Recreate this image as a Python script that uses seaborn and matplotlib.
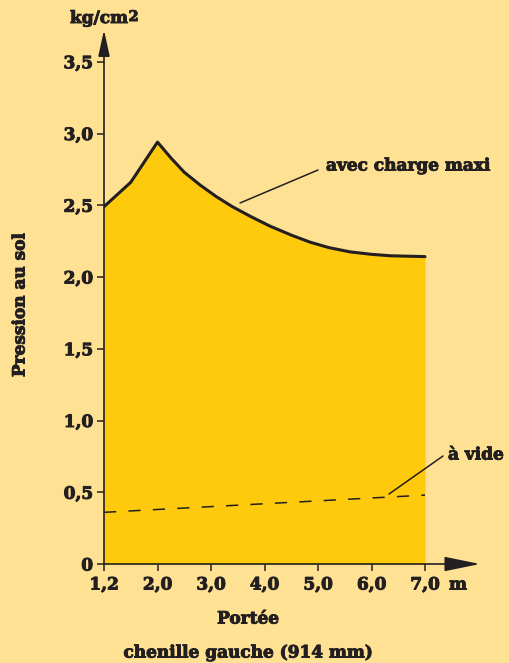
import numpy as np
import matplotlib
matplotlib.use("Agg")
import matplotlib.pyplot as plt
import matplotlib.patheffects as pe
import seaborn as sns

# --- data ---
tick_m = [1.2, 2.0, 3.0, 4.0, 5.0, 6.0, 7.0]
tick_labels = ["1,2", "2,0", "3,0", "4,0", "5,0", "6,0", "7,0"]
y_ticks = [0, 0.5, 1.0, 1.5, 2.0, 2.5, 3.0, 3.5]
y_labels = ["0", "0,5", "1,0", "1,5", "2,0", "2,5", "3,0", "3,5"]

# avec charge maxi
charge_m = [1.2, 1.6, 2.0, 2.25, 2.5, 2.8, 3.1, 3.4, 3.75, 4.1, 4.5,
            4.85, 5.2, 5.6, 6.0, 6.35, 7.0]
charge_p = [2.49, 2.66, 2.94, 2.83, 2.73, 2.64, 2.56, 2.49, 2.42, 2.355, 2.292,
            2.243, 2.205, 2.175, 2.158, 2.148, 2.142]

# à vide
vide_m = [1.2, 7.0]
vide_p = [0.36, 0.48]

BG = "#fee193"
FILL = "#ffc90c"
INK = "#231f20"

sns.set_style("white", {"axes.facecolor": BG, "figure.facecolor": BG})
plt.rcParams["font.family"] = ["DejaVu Serif"]
plt.rcParams["font.weight"] = "bold"
plt.rcParams["mathtext.fontset"] = "dejavuserif"

W, H = 509, 663
fig = plt.figure(figsize=(W / 100, H / 100), dpi=100)
# axis origin at px (104, 564); x tick spacing 53.5 px, y 143.5 px per unit
x0, y0, x1, y1 = 104, 564, 480, 30
ax = fig.add_axes([x0 / W, (H - y0) / H, (x1 - x0) / W, (y0 - y1) / H])
ax.set_xlim(0, (x1 - x0) / 53.5)
ax.set_ylim(0, (y0 - y1) / 143.5)

# map metres onto the evenly spaced tick positions
pos = lambda m: np.interp(m, tick_m, np.arange(len(tick_m)))
cx = pos(charge_m)
vx = pos(vide_m)

ax.fill_between(cx, 0, charge_p, color=FILL, lw=0, zorder=1)
sns.lineplot(x=cx, y=charge_p, ax=ax, color=INK, lw=2.2, sort=False, zorder=3)
sns.lineplot(x=vx, y=vide_p, ax=ax, color=INK, lw=1.1, dashes=False, zorder=3)
ax.lines[-1].set_dashes((8, 8))

for s in ax.spines.values():
    s.set_visible(False)

# axes as arrows
ax.annotate("", xy=(1, 0), xytext=(0, 0), xycoords="axes fraction",
            arrowprops=dict(arrowstyle="-|>,head_length=2.2,head_width=0.45",
                            mutation_scale=10, color=INK, lw=1.2, shrinkA=0, shrinkB=0),
            zorder=5)
ax.annotate("", xy=(0, 1), xytext=(0, 0), xycoords="axes fraction",
            arrowprops=dict(arrowstyle="-|>,head_length=1.6,head_width=0.35",
                            mutation_scale=10, color=INK, lw=1.2, shrinkA=0, shrinkB=0),
            zorder=5)

heavy = [pe.withStroke(linewidth=0.7, foreground=INK)]
FS = 12.2

ax.set_xticks(range(len(tick_m)))
ax.set_xticklabels(tick_labels)
ax.set_yticks(y_ticks)
ax.set_yticklabels(y_labels)
ax.tick_params(axis="both", direction="out", length=5, width=1.1, color=INK,
               labelcolor=INK, labelsize=FS, left=True, bottom=True)
ax.tick_params(axis="x", pad=4)
ax.tick_params(axis="y", pad=3)
for t in ax.get_xticklabels() + ax.get_yticklabels():
    t.set_fontweight("bold")
    t.set_path_effects(heavy)

tk = dict(color=INK, fontweight="bold", fontsize=FS, path_effects=heavy)
fig.text(128 / W, 1 - 23 / H, "kg/cm", ha="right", va="baseline", **tk)
fig.text(128.5 / W, 1 - 21 / H, "2", ha="left", va="baseline",
         color=INK, fontweight="bold", fontsize=10.5, path_effects=heavy)
fig.text(458 / W, 1 - 585 / H, "m", ha="center", va="center", **tk)
fig.text(20 / W, 1 - 305 / H, "Pression au sol", rotation=90, ha="center", va="center", **tk)
fig.text(248 / W, 1 - 619 / H, "Portée", ha="center", va="center", **tk)
fig.text(248 / W, 1 - 653 / H, "chenille gauche (914 mm)", ha="center", va="center", **tk)

# leader lines and labels
def px(x, y):
    return ((x - x0) / 53.5, (y0 - y) / 143.5)

ax.plot(*zip(px(240, 203), px(318, 170)), color=INK, lw=1.1, clip_on=False, zorder=4)
ax.text(*px(326, 166), "avec charge maxi", ha="left", va="center", **tk)
ax.plot(*zip(px(389, 494), px(443, 456)), color=INK, lw=1.1, clip_on=False, zorder=4)
ax.text(*px(448, 455), "à vide", ha="left", va="center", **tk)

fig.savefig("out.png", dpi=100, facecolor=BG)
